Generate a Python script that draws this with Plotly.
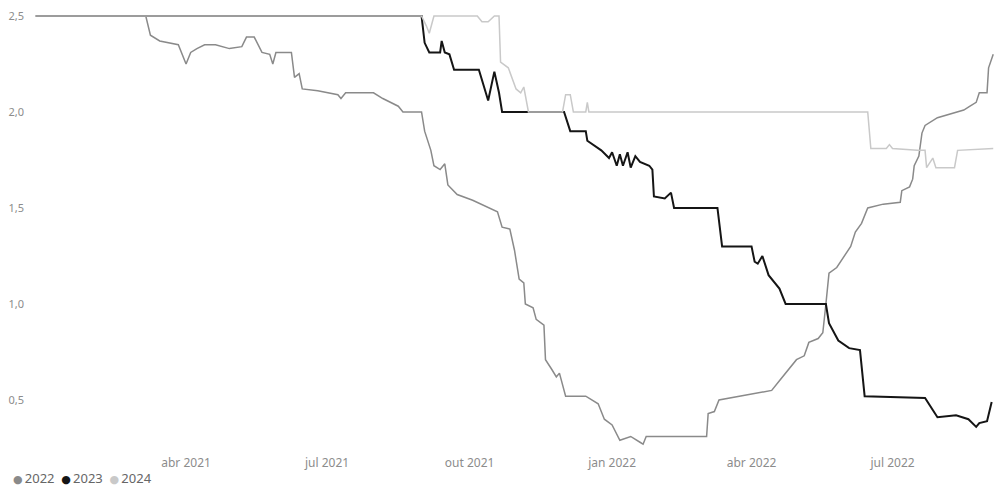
import plotly.graph_objects as go

# values
dates_2022 = [
    "2020-12-25", "2021-03-03", "2021-03-06", "2021-03-09", "2021-03-15", "2021-03-27",
    "2021-04-01", "2021-04-04", "2021-04-08", "2021-04-13", "2021-04-20", "2021-04-29",
    "2021-05-07", "2021-05-10", "2021-05-15", "2021-05-20", "2021-05-25", "2021-05-27",
    "2021-05-29", "2021-06-08", "2021-06-10", "2021-06-13", "2021-06-15", "2021-06-25",
    "2021-07-08", "2021-07-10", "2021-07-13", "2021-07-31", "2021-08-06", "2021-08-16",
    "2021-08-19", "2021-08-31", "2021-09-02", "2021-09-06", "2021-09-08", "2021-09-12",
    "2021-09-15", "2021-09-17", "2021-09-23", "2021-10-03", "2021-10-13", "2021-10-19",
    "2021-10-22", "2021-10-27", "2021-10-30", "2021-11-02", "2021-11-05", "2021-11-06",
    "2021-11-11", "2021-11-13", "2021-11-18", "2021-11-19", "2021-11-23", "2021-11-26",
    "2021-11-28", "2021-12-02", "2021-12-15", "2021-12-23", "2021-12-27", "2022-01-01",
    "2022-01-06", "2022-01-09", "2022-01-13", "2022-01-19", "2022-01-21", "2022-01-23",
    "2022-03-03", "2022-03-04", "2022-03-08", "2022-03-11", "2022-04-01", "2022-04-14",
    "2022-04-19", "2022-04-25", "2022-04-30", "2022-05-05", "2022-05-08", "2022-05-14",
    "2022-05-17", "2022-05-19", "2022-05-21", "2022-05-26", "2022-06-04", "2022-06-07",
    "2022-06-11", "2022-06-15", "2022-06-25", "2022-07-06", "2022-07-07", "2022-07-12",
    "2022-07-14", "2022-07-15", "2022-07-18", "2022-07-20", "2022-07-22", "2022-07-30",
    "2022-08-08", "2022-08-16", "2022-08-20", "2022-08-24", "2022-08-26", "2022-08-31",
    "2022-09-01", "2022-09-04",
]
vals_2022 = [
    2.5, 2.5, 2.5, 2.40, 2.37, 2.35,
    2.25, 2.31, 2.33, 2.35, 2.35, 2.33,
    2.34, 2.39, 2.39, 2.31, 2.30, 2.25,
    2.31, 2.31, 2.18, 2.20, 2.12, 2.11,
    2.09, 2.07, 2.10, 2.10, 2.07, 2.03,
    2.0, 2.0, 1.9, 1.80, 1.72, 1.70,
    1.73, 1.62, 1.57, 1.54, 1.50, 1.48,
    1.40, 1.39, 1.28, 1.13, 1.11, 1.0,
    0.98, 0.92, 0.89, 0.71, 0.66, 0.62,
    0.64, 0.52, 0.52, 0.48, 0.40, 0.37,
    0.29, 0.30, 0.31, 0.28, 0.27, 0.31,
    0.31, 0.43, 0.44, 0.50, 0.53, 0.55,
    0.60, 0.66, 0.71, 0.73, 0.80, 0.82,
    0.85, 1.0, 1.16, 1.19, 1.30, 1.375,
    1.42, 1.50, 1.52, 1.53, 1.59, 1.61,
    1.65, 1.72, 1.77, 1.89, 1.93, 1.97,
    1.99, 2.01, 2.03, 2.05, 2.10, 2.10,
    2.23, 2.30,
]

dates_2023 = [
    "2020-12-25", "2021-08-31", "2021-09-02", "2021-09-05", "2021-09-12", "2021-09-13",
    "2021-09-15", "2021-09-18", "2021-09-21", "2021-10-07", "2021-10-13", "2021-10-17",
    "2021-10-20", "2021-10-22", "2021-12-01", "2021-12-05", "2021-12-15", "2021-12-16",
    "2021-12-25", "2021-12-30", "2022-01-01", "2022-01-04", "2022-01-06", "2022-01-08",
    "2022-01-11", "2022-01-13", "2022-01-16", "2022-01-19", "2022-01-25", "2022-01-27",
    "2022-01-28", "2022-02-04", "2022-02-08", "2022-02-10", "2022-03-10", "2022-03-13",
    "2022-04-01", "2022-04-03", "2022-04-05", "2022-04-08", "2022-04-12", "2022-04-19",
    "2022-04-23", "2022-05-19", "2022-05-21", "2022-05-27", "2022-06-03", "2022-06-10",
    "2022-06-13", "2022-07-22", "2022-07-30", "2022-08-11", "2022-08-19", "2022-08-24",
    "2022-08-26", "2022-08-31", "2022-09-03",
]
vals_2023 = [
    2.5, 2.5, 2.36, 2.31, 2.31, 2.37,
    2.31, 2.30, 2.22, 2.22, 2.06, 2.21,
    2.10, 2.0, 2.0, 1.90, 1.90, 1.85,
    1.80, 1.76, 1.79, 1.72, 1.78, 1.72,
    1.79, 1.71, 1.77, 1.74, 1.72, 1.70,
    1.56, 1.55, 1.58, 1.50, 1.50, 1.30,
    1.30, 1.22, 1.21, 1.25, 1.15, 1.08,
    1.0, 1.0, 0.90, 0.81, 0.77, 0.76,
    0.52, 0.51, 0.41, 0.42, 0.40, 0.36,
    0.38, 0.39, 0.49,
]

dates_2024 = [
    "2020-12-25", "2021-08-31", "2021-09-03", "2021-09-05", "2021-09-08", "2021-10-06",
    "2021-10-09", "2021-10-13", "2021-10-17", "2021-10-20", "2021-10-21", "2021-10-26",
    "2021-10-31", "2021-11-03", "2021-11-05", "2021-11-08", "2021-11-30", "2021-12-02",
    "2021-12-05", "2021-12-07", "2021-12-15", "2021-12-16", "2021-12-17", "2022-06-15",
    "2022-06-17", "2022-06-27", "2022-06-29", "2022-07-01", "2022-07-17", "2022-07-22",
    "2022-07-23", "2022-07-27", "2022-07-29", "2022-08-10", "2022-08-12", "2022-09-04",
]
vals_2024 = [
    2.5, 2.5, 2.45, 2.41, 2.5, 2.5,
    2.47, 2.47, 2.5, 2.5, 2.26, 2.23,
    2.12, 2.10, 2.13, 2.0, 2.0, 2.09,
    2.09, 2.0, 2.0, 2.05, 2.0, 2.0,
    1.81, 1.81, 1.83, 1.81, 1.80, 1.80,
    1.71, 1.76, 1.71, 1.71, 1.80, 1.81,
]

tick_dates = ["2021-04-01", "2021-07-01", "2021-10-01", "2022-01-01", "2022-04-01", "2022-07-01"]
tick_text = ["abr 2021", "jul 2021", "out 2021", "jan 2022", "abr 2022", "jul 2022"]
y_ticks = [0.5, 1.0, 1.5, 2.0, 2.5]

series = [
    ("2022", dates_2022, vals_2022, "#8a8a8a", 1.5),
    ("2023", dates_2023, vals_2023, "#151515", 2),
    ("2024", dates_2024, vals_2024, "#c9c9c9", 1.5),
]

FONT = "Noto Sans, DejaVu Sans, sans-serif"

fig = go.Figure()
for name, xs, ys, color, width in series:
    fig.add_trace(
        go.Scatter(
            x=xs,
            y=ys,
            mode="lines",
            name=name,
            line=dict(color=color, width=width),
            showlegend=False,
        )
    )

# legend drawn as a single line of text, dots coloured per series
legend_text = "&nbsp;&nbsp;".join(
    f"<span style='color:{color};font-size:11px'>●</span>&#8201;{name}"
    for name, _, _, color, _ in series
)
fig.add_annotation(
    text=legend_text,
    xref="paper",
    yref="paper",
    x=-0.024,
    y=-0.0693,
    xanchor="left",
    yanchor="middle",
    showarrow=False,
    borderpad=0,
    font=dict(family=FONT, size=13, color="#666666"),
)

# the page body keeps an 8px margin, so the figure is sized to fit inside the window
fig.update_layout(
    width=986,
    height=479,
    margin=dict(l=25, r=0, t=7, b=39),
    paper_bgcolor="white",
    plot_bgcolor="white",
    separators=",.",
    font=dict(family=FONT, size=11, color="#8c8c8c"),
    showlegend=False,
)
fig.update_xaxes(
    type="date",
    range=["2020-12-24 12:00", "2022-09-04 12:00"],
    tickvals=tick_dates,
    ticktext=tick_text,
    showgrid=False,
    zeroline=False,
    showline=False,
    ticks="",
    ticklabelstandoff=6,
    ticklabeloverflow="allow",
    tickfont=dict(size=12, color="#8c8c8c"),
)
fig.update_yaxes(
    range=[0.25, 2.505],
    tickvals=y_ticks,
    tickformat=".1f",
    showgrid=False,
    zeroline=False,
    showline=False,
    ticks="",
    ticklabelstandoff=10,
    ticklabeloverflow="allow",
    tickfont=dict(size=11, color="#8c8c8c"),
)

fig.write_html("out.html")
